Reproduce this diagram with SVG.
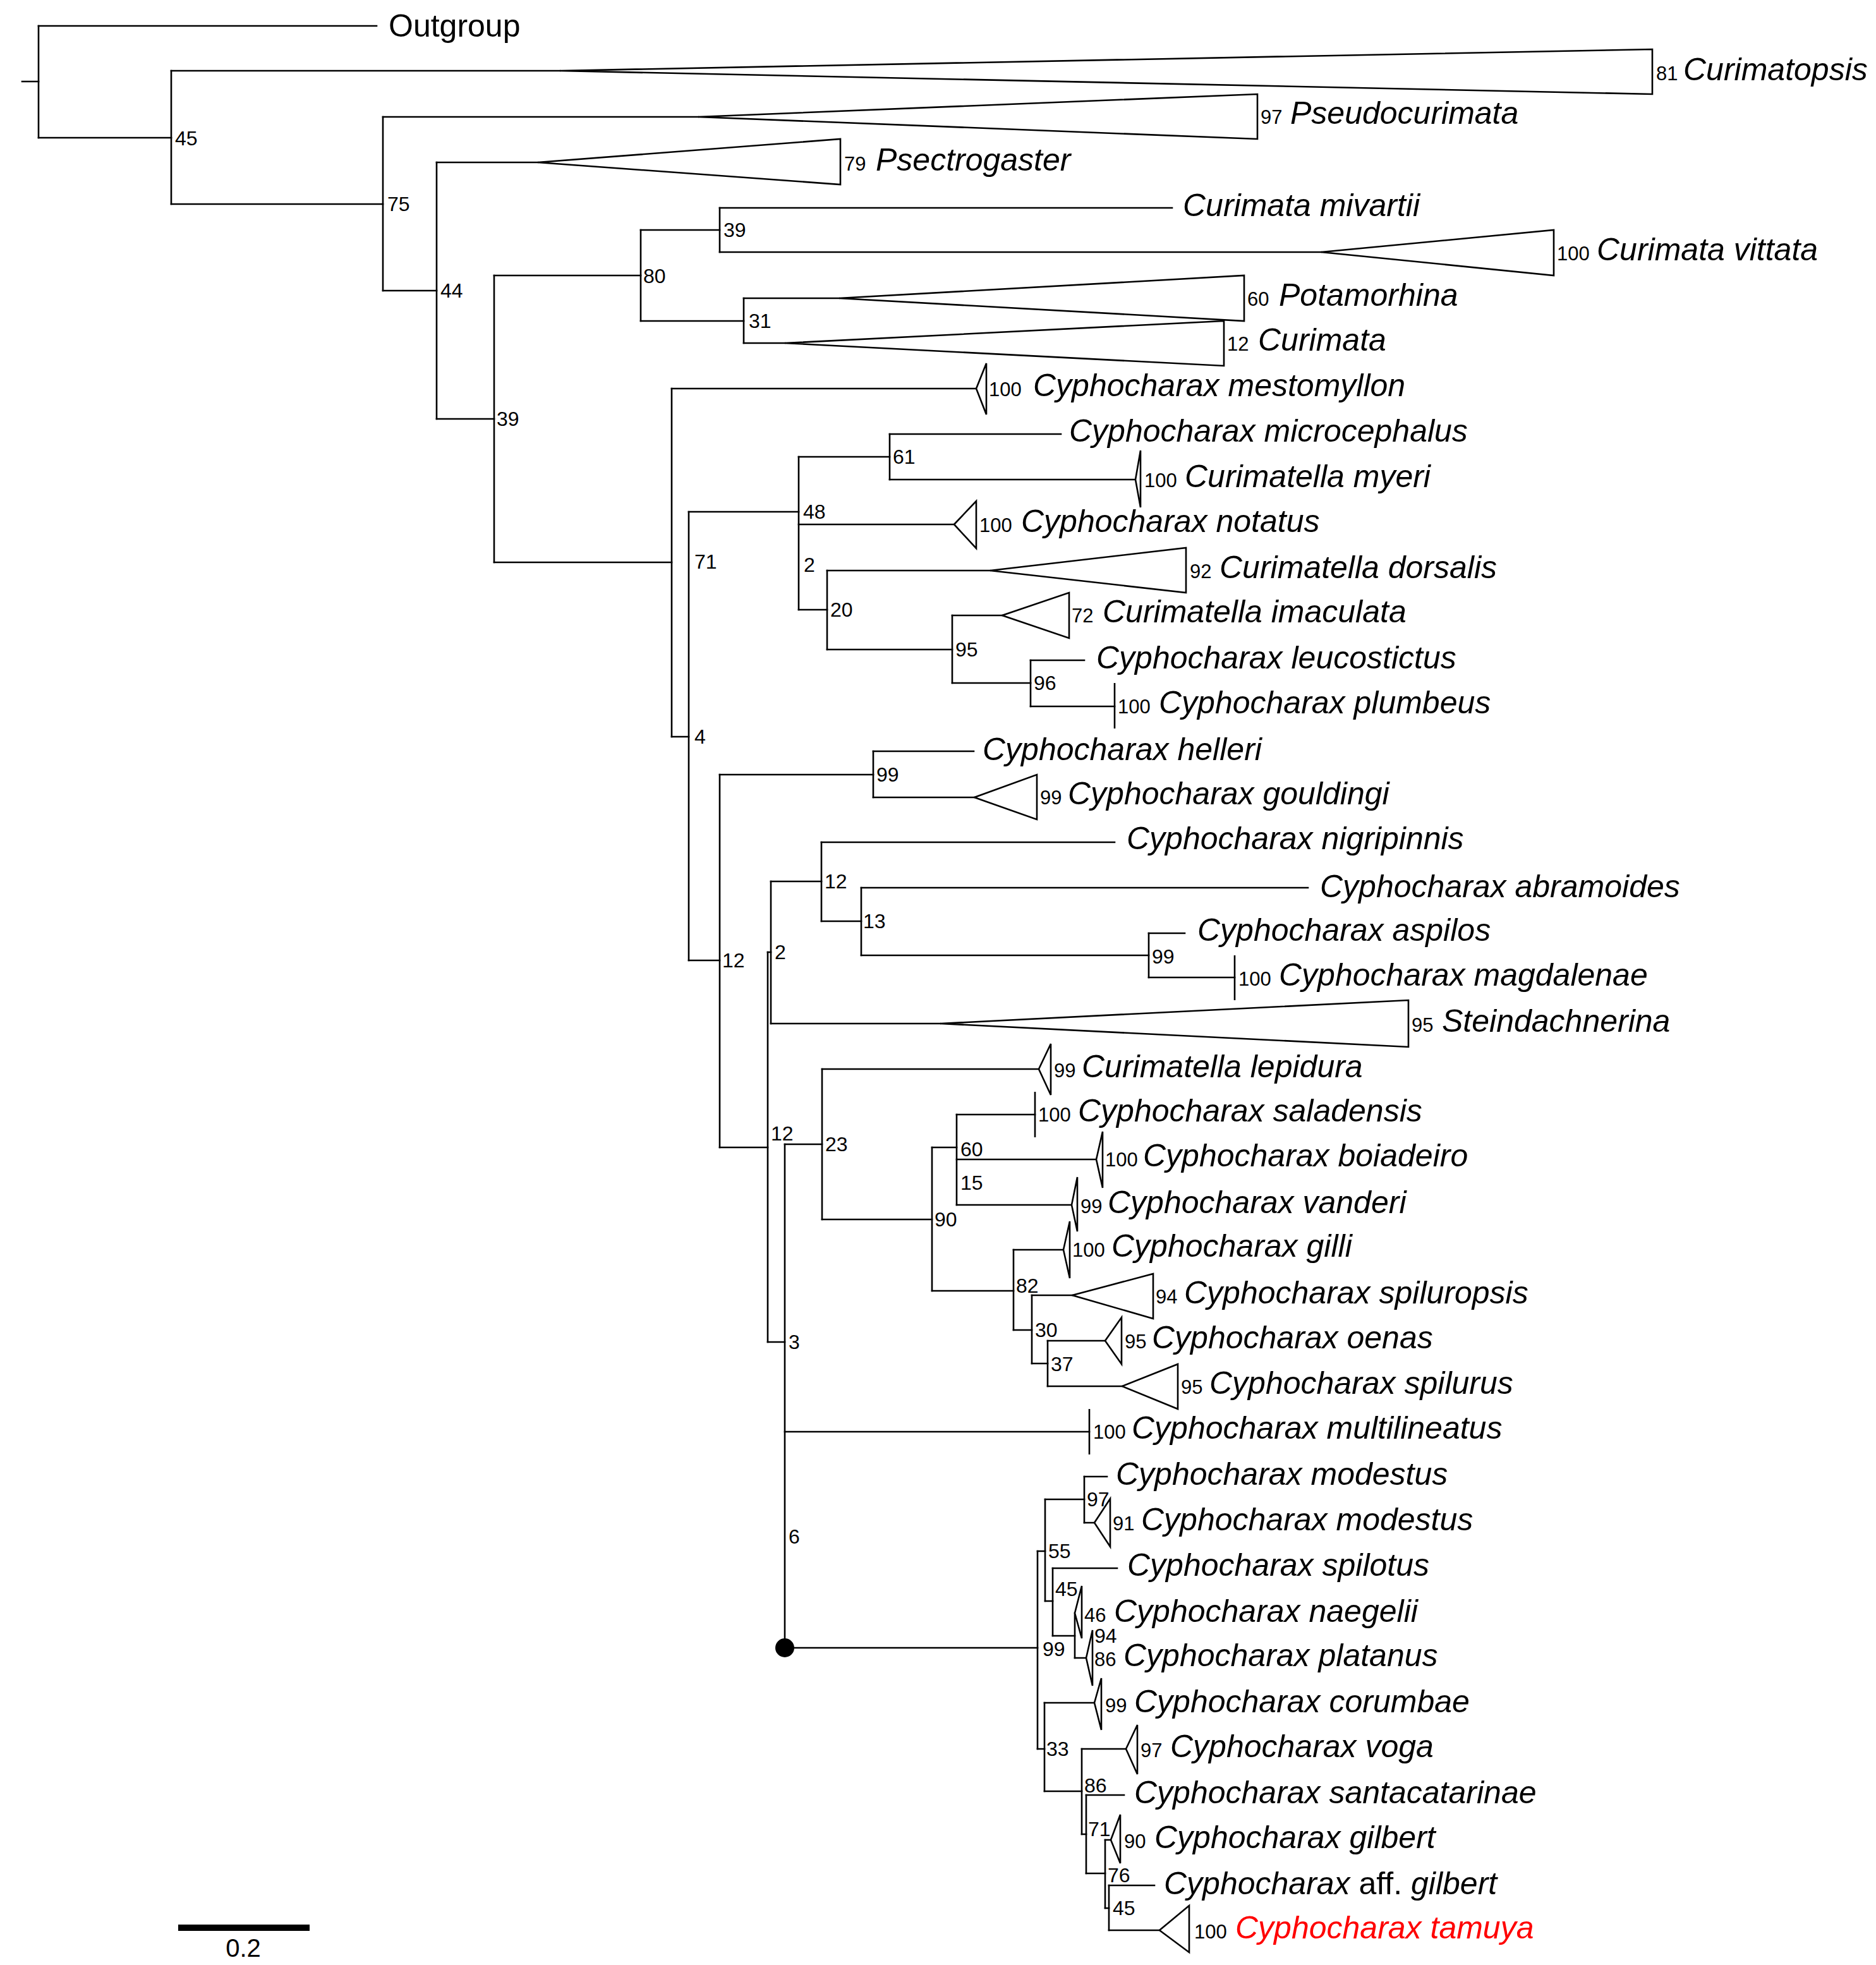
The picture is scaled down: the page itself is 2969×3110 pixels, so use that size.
<svg xmlns="http://www.w3.org/2000/svg" width="2969" height="3110" viewBox="0 0 2969 3110">
<style>
.ln{fill:none;stroke:#000;stroke-width:2.6;stroke-linecap:square}
.tri{fill:#fff;stroke:#000;stroke-width:2.6;stroke-linejoin:miter}
.tk{stroke:#000;stroke-width:2.6}
.sp{font-family:"Liberation Sans",Arial,sans-serif;font-style:italic;font-size:50px;fill:#000}
.rg{font-family:"Liberation Sans",Arial,sans-serif;font-size:50px;fill:#000}
.nm{font-family:"Liberation Sans",Arial,sans-serif;font-size:31px;fill:#000}
.bs{font-family:"Liberation Sans",Arial,sans-serif;font-size:32px;fill:#000}
</style>
<rect width="2969" height="3110" fill="#fff"/>
<g id="connectors" class="ln">
<path d="M61,41V218 M271,112V323 M606,185V460 M691,257V663 M782,436V890 M1014,364V508 M1139,329V399 M1177,472V543 M1063,615V1166 M1090,810V1520 M1264,723V965 M1408,687V759 M1309,903V1028 M1507,974V1081 M1631,1045V1118 M1139,1226V1816 M1382,1189V1262 M1215,1507V2124 M1220,1395V1620 M1300,1333V1458 M1363,1405V1512 M1818,1477V1547 M1242,1811V2608 M1301,1692V1930 M1475,1816V2043 M1514,1764V1907 M1604,1978V2105 M1633,2050V2158 M1658,2122V2194 M1642,2455V2768 M1654,2373V2534 M1716,2337V2410 M1666,2482V2589 M1701,2553V2624 M1653,2695V2835 M1712,2768V2903 M1719,2841V2965 M1749,2912V3020 M1755,2984V3055"/>
<path d="M35,129H61 M61,41H596 M61,218H271 M271,112H886 M271,323H606 M606,185H1105 M606,460H691 M691,257H851 M691,663H782 M782,436H1014 M1014,364H1139 M1139,329H1855 M1139,399H2091 M1014,508H1177 M1177,472H1328 M1177,543H1242 M782,890H1063 M1063,615H1545 M1063,1166H1090 M1090,810H1264 M1264,723H1408 M1408,687H1679 M1408,759H1797 M1264,830H1510 M1264,965H1309 M1309,903H1567 M1309,1028H1507 M1507,974H1586 M1507,1081H1631 M1631,1045H1716 M1631,1118H1764 M1090,1520H1139 M1139,1226H1382 M1382,1189H1541 M1382,1262H1542 M1139,1816H1215 M1215,1507H1220 M1220,1395H1300 M1300,1333H1764 M1300,1458H1363 M1363,1405H2070 M1363,1512H1818 M1818,1477H1875 M1818,1547H1954 M1220,1620H1488 M1215,2124H1242 M1242,1811H1301 M1301,1692H1644 M1301,1930H1475 M1475,1816H1514 M1514,1764H1638 M1514,1835H1735 M1514,1907H1696 M1475,2043H1604 M1604,1978H1683 M1604,2105H1633 M1633,2050H1697 M1633,2158H1658 M1658,2122H1749 M1658,2194H1776 M1242,2266H1724 M1242,2608H1642 M1642,2455H1654 M1654,2373H1716 M1716,2337H1752 M1716,2410H1732 M1654,2534H1666 M1666,2482H1768 M1666,2589H1701 M1701,2624H1719 M1642,2768H1653 M1653,2695H1732 M1653,2835H1712 M1712,2768H1782 M1712,2903H1719 M1719,2841H1779 M1719,2965H1749 M1749,2912H1758 M1749,3020H1755 M1755,2984H1827 M1755,3055H1835"/>
</g>
<g id="tips">
<g id="t-outgroup"><text class="rg" x="615" y="58">Outgroup</text></g>
<g id="t-curimatopsis"><polygon class="tri" points="886,112 2615,78 2615,149"/><text class="nm" x="2621" y="127">81</text><text class="sp" x="2664" y="127">Curimatopsis</text></g>
<g id="t-pseudocurimata"><polygon class="tri" points="1105,185 1990,149 1990,220"/><text class="nm" x="1995" y="196">97</text><text class="sp" x="2042" y="196">Pseudocurimata</text></g>
<g id="t-psectrogaster"><polygon class="tri" points="851,257 1330,220 1330,292"/><text class="nm" x="1336" y="270">79</text><text class="sp" x="1386" y="270">Psectrogaster</text></g>
<g id="t-mivartii"><text class="sp" x="1872" y="342">Curimata mivartii</text></g>
<g id="t-vittata"><polygon class="tri" points="2091,399 2459,364 2459,436"/><text class="nm" x="2464" y="412">100</text><text class="sp" x="2527" y="412">Curimata vittata</text></g>
<g id="t-potamorhina"><polygon class="tri" points="1328,472 1969,436 1969,508"/><text class="nm" x="1974" y="484">60</text><text class="sp" x="2024" y="484">Potamorhina</text></g>
<g id="t-curimata"><polygon class="tri" points="1242,543 1937,508 1937,579"/><text class="nm" x="1942" y="555">12</text><text class="sp" x="1991" y="555">Curimata</text></g>
<g id="t-mestomyllon"><polygon class="tri" points="1545,615 1561,575 1561,656"/><text class="nm" x="1565" y="627">100</text><text class="sp" x="1635" y="627">Cyphocharax mestomyllon</text></g>
<g id="t-microcephalus"><text class="sp" x="1692" y="699">Cyphocharax microcephalus</text></g>
<g id="t-myeri"><polygon class="tri" points="1797,759 1805,713 1805,803"/><text class="nm" x="1811" y="771">100</text><text class="sp" x="1875" y="771">Curimatella myeri</text></g>
<g id="t-notatus"><polygon class="tri" points="1510,830 1545,793 1545,868"/><text class="nm" x="1550" y="842">100</text><text class="sp" x="1616" y="842">Cyphocharax notatus</text></g>
<g id="t-dorsalis"><polygon class="tri" points="1567,903 1877,867 1877,938"/><text class="nm" x="1883" y="915">92</text><text class="sp" x="1930" y="915">Curimatella dorsalis</text></g>
<g id="t-imaculata"><polygon class="tri" points="1586,974 1692,938 1692,1010"/><text class="nm" x="1696" y="985">72</text><text class="sp" x="1745" y="985">Curimatella imaculata</text></g>
<g id="t-leucostictus"><text class="sp" x="1735" y="1058">Cyphocharax leucostictus</text></g>
<g id="t-plumbeus"><line class="tk" x1="1764" y1="1081" x2="1764" y2="1153"/><text class="nm" x="1769" y="1129">100</text><text class="sp" x="1834" y="1129">Cyphocharax plumbeus</text></g>
<g id="t-helleri"><text class="sp" x="1555" y="1203">Cyphocharax helleri</text></g>
<g id="t-gouldingi"><polygon class="tri" points="1542,1262 1641,1226 1641,1297"/><text class="nm" x="1646" y="1273">99</text><text class="sp" x="1690" y="1273">Cyphocharax gouldingi</text></g>
<g id="t-nigripinnis"><text class="sp" x="1783" y="1344">Cyphocharax nigripinnis</text></g>
<g id="t-abramoides"><text class="sp" x="2089" y="1420">Cyphocharax abramoides</text></g>
<g id="t-aspilos"><text class="sp" x="1895" y="1489">Cyphocharax aspilos</text></g>
<g id="t-magdalenae"><line class="tk" x1="1954" y1="1512" x2="1954" y2="1583"/><text class="nm" x="1960" y="1560">100</text><text class="sp" x="2024" y="1560">Cyphocharax magdalenae</text></g>
<g id="t-steindachnerina"><polygon class="tri" points="1488,1620 2229,1583 2229,1657"/><text class="nm" x="2234" y="1633">95</text><text class="sp" x="2282" y="1633">Steindachnerina</text></g>
<g id="t-lepidura"><polygon class="tri" points="1644,1692 1663,1652 1663,1733"/><text class="nm" x="1668" y="1705">99</text><text class="sp" x="1712" y="1705">Curimatella lepidura</text></g>
<g id="t-saladensis"><line class="tk" x1="1638" y1="1728" x2="1638" y2="1800"/><text class="nm" x="1643" y="1775">100</text><text class="sp" x="1706" y="1775">Cyphocharax saladensis</text></g>
<g id="t-boiadeiro"><polygon class="tri" points="1735,1835 1745,1791 1745,1880"/><text class="nm" x="1749" y="1846">100</text><text class="sp" x="1809" y="1846">Cyphocharax boiadeiro</text></g>
<g id="t-vanderi"><polygon class="tri" points="1696,1907 1705,1863 1705,1949"/><text class="nm" x="1710" y="1920">99</text><text class="sp" x="1753" y="1920">Cyphocharax vanderi</text></g>
<g id="t-gilli"><polygon class="tri" points="1683,1978 1693,1933 1693,2023"/><text class="nm" x="1697" y="1989">100</text><text class="sp" x="1759" y="1989">Cyphocharax gilli</text></g>
<g id="t-spiluropsis"><polygon class="tri" points="1697,2050 1825,2016 1825,2087"/><text class="nm" x="1829" y="2063">94</text><text class="sp" x="1874" y="2063">Cyphocharax spiluropsis</text></g>
<g id="t-oenas"><polygon class="tri" points="1749,2122 1775,2085 1775,2159"/><text class="nm" x="1780" y="2134">95</text><text class="sp" x="1823" y="2134">Cyphocharax oenas</text></g>
<g id="t-spilurus"><polygon class="tri" points="1776,2194 1864,2159 1864,2230"/><text class="nm" x="1869" y="2206">95</text><text class="sp" x="1914" y="2206">Cyphocharax spilurus</text></g>
<g id="t-multilineatus"><line class="tk" x1="1724" y1="2230" x2="1724" y2="2302"/><text class="nm" x="1730" y="2277">100</text><text class="sp" x="1791" y="2277">Cyphocharax multilineatus</text></g>
<g id="t-modestus1"><text class="sp" x="1766" y="2350">Cyphocharax modestus</text></g>
<g id="t-modestus2"><polygon class="tri" points="1732,2410 1757,2372 1757,2448"/><text class="nm" x="1761" y="2422">91</text><text class="sp" x="1806" y="2422">Cyphocharax modestus</text></g>
<g id="t-spilotus"><text class="sp" x="1784" y="2494">Cyphocharax spilotus</text></g>
<g id="t-naegelii"><polygon class="tri" points="1701,2553 1712,2510 1712,2593"/><text class="nm" x="1716" y="2567">46</text><text class="sp" x="1763" y="2567">Cyphocharax naegelii</text></g>
<g id="t-platanus"><polygon class="tri" points="1719,2624 1729,2580 1729,2668"/><text class="nm" x="1732" y="2637">86</text><text class="sp" x="1778" y="2637">Cyphocharax platanus</text></g>
<g id="t-corumbae"><polygon class="tri" points="1732,2695 1743,2656 1743,2738"/><text class="nm" x="1749" y="2710">99</text><text class="sp" x="1795" y="2710">Cyphocharax corumbae</text></g>
<g id="t-voga"><polygon class="tri" points="1782,2768 1800,2730 1800,2808"/><text class="nm" x="1805" y="2781">97</text><text class="sp" x="1852" y="2781">Cyphocharax voga</text></g>
<g id="t-santacatarinae"><text class="sp" x="1795" y="2854">Cyphocharax santacatarinae</text></g>
<g id="t-gilbert"><polygon class="tri" points="1758,2912 1773,2872 1773,2949"/><text class="nm" x="1779" y="2925">90</text><text class="sp" x="1827" y="2925">Cyphocharax gilbert</text></g>
<g id="t-affgilbert"><text class="sp" x="1842" y="2998">Cyphocharax <tspan font-style="normal">aff.</tspan> gilbert</text></g>
<g id="t-tamuya"><polygon class="tri" points="1835,3055 1882,3016 1882,3090"/><text class="nm" x="1890" y="3068">100</text><text class="sp" x="1955" y="3068" fill="#ff0000" style="fill:#ff0000">Cyphocharax tamuya</text></g>
</g>
<g id="internal-nodes" class="bs">
<g id="n45a"><text class="bs" x="277" y="230">45</text></g>
<g id="n75"><text class="bs" x="613" y="334">75</text></g>
<g id="n44"><text class="bs" x="697" y="471">44</text></g>
<g id="n39a"><text class="bs" x="786" y="674">39</text></g>
<g id="n80"><text class="bs" x="1018" y="448">80</text></g>
<g id="n39b"><text class="bs" x="1145" y="375">39</text></g>
<g id="n31"><text class="bs" x="1185" y="519">31</text></g>
<g id="n71a"><text class="bs" x="1099" y="900">71</text></g>
<g id="n4"><text class="bs" x="1099" y="1177">4</text></g>
<g id="n61"><text class="bs" x="1413" y="734">61</text></g>
<g id="n48"><text class="bs" x="1271" y="821">48</text></g>
<g id="n2a"><text class="bs" x="1272" y="905">2</text></g>
<g id="n20"><text class="bs" x="1314" y="976">20</text></g>
<g id="n95"><text class="bs" x="1512" y="1039">95</text></g>
<g id="n96"><text class="bs" x="1636" y="1092">96</text></g>
<g id="n99a"><text class="bs" x="1387" y="1237">99</text></g>
<g id="n12a"><text class="bs" x="1143" y="1531">12</text></g>
<g id="n12c"><text class="bs" x="1305" y="1406">12</text></g>
<g id="n13"><text class="bs" x="1366" y="1469">13</text></g>
<g id="n99b"><text class="bs" x="1823" y="1525">99</text></g>
<g id="n2b"><text class="bs" x="1226" y="1518">2</text></g>
<g id="n12b"><text class="bs" x="1220" y="1805">12</text></g>
<g id="n23"><text class="bs" x="1306" y="1822">23</text></g>
<g id="n90"><text class="bs" x="1479" y="1941">90</text></g>
<g id="n60"><text class="bs" x="1520" y="1830">60</text></g>
<g id="n15"><text class="bs" x="1520" y="1883">15</text></g>
<g id="n82"><text class="bs" x="1608" y="2046">82</text></g>
<g id="n30"><text class="bs" x="1638" y="2116">30</text></g>
<g id="n37"><text class="bs" x="1663" y="2170">37</text></g>
<g id="n3"><text class="bs" x="1248" y="2135">3</text></g>
<g id="n6"><text class="bs" x="1248" y="2443">6</text></g>
<g id="n-root-tamuya"><circle cx="1242" cy="2608" r="15" fill="#000"/></g>
<g id="n99c"><text class="bs" x="1650" y="2621">99</text></g>
<g id="n55"><text class="bs" x="1659" y="2466">55</text></g>
<g id="n97"><text class="bs" x="1720" y="2384">97</text></g>
<g id="n45b"><text class="bs" x="1670" y="2526">45</text></g>
<g id="n94"><text class="bs" x="1732" y="2600">94</text></g>
<g id="n33"><text class="bs" x="1656" y="2779">33</text></g>
<g id="n86"><text class="bs" x="1716" y="2837">86</text></g>
<g id="n71b"><text class="bs" x="1722" y="2906">71</text></g>
<g id="n76"><text class="bs" x="1753" y="2979">76</text></g>
<g id="n45c"><text class="bs" x="1761" y="3031">45</text></g>
</g>
<g id="scale-bar">
<rect x="282" y="3046" width="208" height="10" fill="#000"/>
<text x="385" y="3097" text-anchor="middle" font-family="Liberation Sans, Arial, sans-serif" font-size="40">0.2</text>
</g>
</svg>
